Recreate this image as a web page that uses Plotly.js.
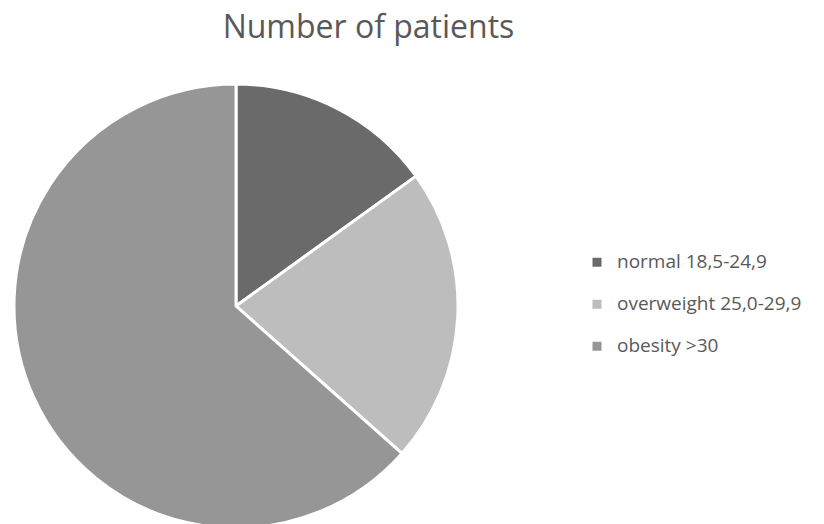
<!DOCTYPE html>
<html>
<head>
<meta charset="utf-8">
<script src="https://cdn.plot.ly/plotly-3.0.1.min.js"></script>
<style>
  html, body { margin: 0; padding: 0; overflow: hidden; background: #ffffff; }
  #chart { width: 824px; height: 560px; }
</style>
</head>
<body>
<div id="chart"></div>
<script>
// BMI groups and patient counts
const categories = ['normal 18,5-24,9', 'overweight 25,0-29,9', 'obesity >30'];
const patients = [14, 20, 59];
const sliceColors = ['#6a6a6a', '#bdbdbd', '#969696'];

const W = 824, H = 560;
const textColor = '#595959';

// Legend rows: the label is drawn in a span, with an empty second line to widen the row pitch
const legendLabels = categories.map(c => '<span style="font-size:19px">' + c + '</span><br>');

const trace = {
  type: 'pie',
  labels: legendLabels,
  values: patients,
  sort: false,
  direction: 'clockwise',
  rotation: 0,
  textinfo: 'none',
  hoverinfo: 'label+value+percent',
  marker: { colors: sliceColors, line: { color: '#ffffff', width: 3 } },
  domain: { x: [14 / W, 458 / W], y: [(H - 528) / H, (H - 84) / H] }
};

const layout = {
  width: W,
  height: H,
  margin: { l: 0, r: 0, t: 0, b: 0 },
  paper_bgcolor: '#ffffff',
  plot_bgcolor: '#ffffff',
  title: {
    text: 'Number of patients',
    font: { family: 'Open Sans, sans-serif', size: 32, color: textColor },
    x: 368.5 / W, xanchor: 'center', xref: 'container',
    y: 1 - 38 / H, yanchor: 'bottom', yref: 'container'
  },
  showlegend: true,
  legend: {
    x: 577 / W, xanchor: 'left',
    y: 1 - 246 / H, yanchor: 'top',
    valign: 'top',
    bgcolor: 'rgba(0,0,0,0)',
    borderwidth: 0,
    font: { family: 'Open Sans, sans-serif', size: 15, color: textColor }
  }
};

Plotly.newPlot('chart', [trace], layout, { displayModeBar: false, staticPlot: true });
</script>
</body>
</html>
